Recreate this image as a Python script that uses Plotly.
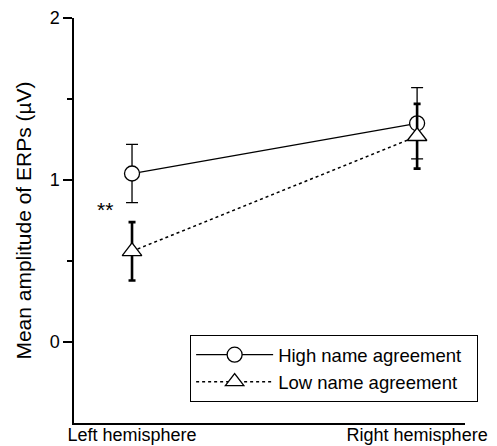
import plotly.graph_objects as go

categories = ["Left hemisphere", "Right hemisphere"]
x_pos = [0, 1]
high_values = [1.04, 1.35]
high_errors = [0.18, 0.22]
low_values = [0.56, 1.27]
low_errors = [0.18, 0.20]
y_tick_vals = [0, 1, 2]
y_tick_text = ["0", "1", "2"]
series_names = ["High name agreement", "Low name agreement"]

FONT = "Liberation Sans, Arial, Helvetica, sans-serif"
PAD = "\u00a0\u00a0"

fig = go.Figure()
fig.add_trace(go.Scatter(
    x=x_pos, y=high_values, name=series_names[0] + PAD, mode="lines+markers",
    line=dict(color="black", width=1.3),
    marker=dict(symbol="circle", size=15, color="white", line=dict(color="black", width=1.3)),
    error_y=dict(type="data", array=high_errors, visible=True, color="black", thickness=1.3, width=6),
))
fig.add_trace(go.Scatter(
    x=x_pos, y=low_values, name=series_names[1] + PAD, mode="lines+markers",
    line=dict(color="black", width=1.5, dash="3px,3px"),
    marker=dict(symbol="triangle-up", size=17, color="white", line=dict(color="black", width=1.3)),
    error_y=dict(type="data", array=low_errors, visible=True, color="black", thickness=2.6, width=3.5),
))

fig.add_annotation(x=-0.095, y=0.815, text="**", showarrow=False,
                   font=dict(size=21, color="black", family=FONT))

fig.update_layout(
    width=497, height=446,
    margin=dict(l=74, r=32, t=18, b=23),
    plot_bgcolor="white", paper_bgcolor="white",
    font=dict(family=FONT, size=18, color="black"),
    showlegend=True,
    legend=dict(x=0.297, y=0.217, xanchor="left", yanchor="top",
                bordercolor="black", borderwidth=1, bgcolor="white",
                font=dict(size=18.5), tracegroupgap=0, itemwidth=77),
    xaxis=dict(range=[-0.2035, 1.168], tickvals=x_pos, ticktext=categories,
               showline=True, linecolor="black", linewidth=1.5, ticks="",
               showgrid=False, zeroline=False, tickfont=dict(size=18), automargin=False,
               ticklabelstandoff=-5),
    yaxis=dict(range=[-0.5, 2], tickvals=y_tick_vals, ticktext=y_tick_text,
               showline=True, linecolor="black", linewidth=1.5,
               ticks="outside", ticklen=9, tickwidth=1.5, tickcolor="black",
               minor=dict(tickvals=[0.5, 1.5], ticks="outside", ticklen=5, tickwidth=1.5, tickcolor="black"),
               showgrid=False, zeroline=False, tickfont=dict(size=18), automargin=False,
               title=dict(text="Mean amplitude of ERPs (µV)", font=dict(size=21), standoff=12)),
)

fig.write_html("out.html")
